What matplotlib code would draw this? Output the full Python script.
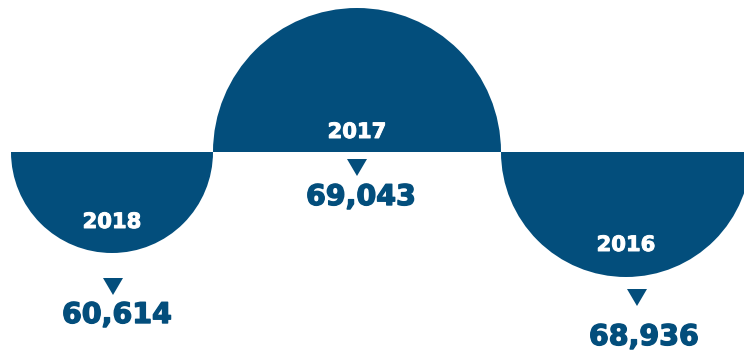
import matplotlib.pyplot as plt
import matplotlib.patheffects as pe
from matplotlib.patches import Wedge, Polygon

years = ['2018', '2017', '2016']
totals = [60614, 69043, 68936]

blue = '#034e7c'

# layout in pixel units (y grows downward)
base_y = 152
cx = [112, 357, 626]
radius = [101, 144, 125]
down = [True, False, True]
year_y = [228, 138, 251]
tri_x = [113, 357, 637]
tri_y = [278, 159, 289]
val_x = [117, 361, 644]
val_y = [323, 205, 345]

fig = plt.figure(figsize=(7.44, 3.53), dpi=100)
ax = fig.add_axes([0, 0, 1, 1])
ax.set_xlim(0, 744)
ax.set_ylim(353, 0)
ax.axis('off')

for i in range(len(years)):
    # inverted y axis: 0..180 opens downward on screen
    t1, t2 = (0, 180) if down[i] else (180, 360)
    ax.add_patch(Wedge((cx[i], base_y), radius[i], t1, t2,
                       facecolor=blue, edgecolor='none'))
    ax.text(cx[i], year_y[i], years[i], color='white', fontsize=15.2,
            fontweight='bold', ha='center', va='baseline',
            path_effects=[pe.withStroke(linewidth=0.7, foreground='white')])
    w, h = 10, 17
    ax.add_patch(Polygon([(tri_x[i] - w, tri_y[i]), (tri_x[i] + w, tri_y[i]),
                          (tri_x[i], tri_y[i] + h)],
                         closed=True, facecolor=blue, edgecolor='none'))
    ax.text(val_x[i], val_y[i], f'{totals[i]:,}', color=blue, fontsize=20.5,
            fontweight='bold', ha='center', va='baseline',
            path_effects=[pe.withStroke(linewidth=1.0, foreground=blue)])

fig.savefig('out.png', dpi=100)
